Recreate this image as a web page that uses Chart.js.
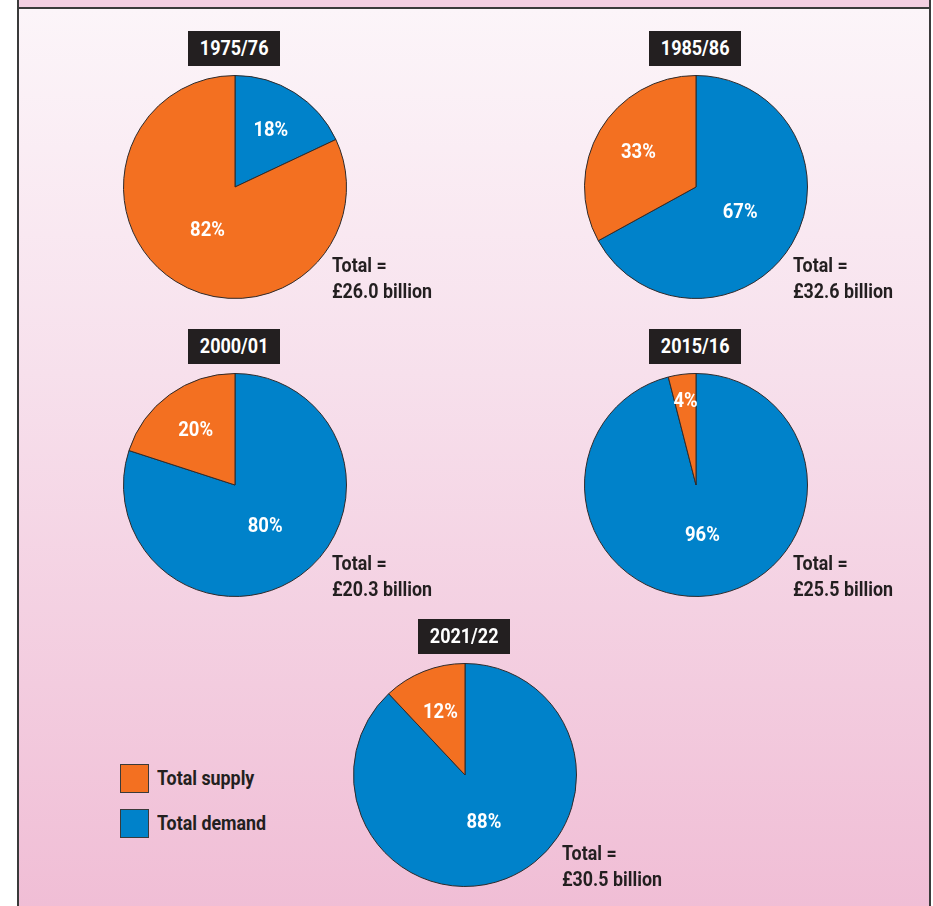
<!DOCTYPE html>
<html>
<head>
<meta charset="utf-8">
<script src="https://cdn.jsdelivr.net/npm/chart.js@4/dist/chart.umd.min.js"></script>
<style>
  html, body { margin: 0; padding: 0; background: #fff; }
  body { width: 933px; height: 906px; position: relative; overflow: hidden; font-family: Roboto, "Liberation Sans", sans-serif; }
  #topband { position: absolute; left: 17px; top: 0; width: 910px; height: 7px; background: #f3cfe1;
             border-left: 2px solid #3a3a3a; border-right: 2px solid #3a3a3a; }
  #frame { position: absolute; left: 17px; top: 7px; width: 910px; height: 910px;
           border: 2px solid #3a3a3a; border-bottom: none;
           background: linear-gradient(to bottom, #fcf5f9 0%, #f7e0ec 40%, #f0bdd5 100%); }
  .pie { position: absolute; }
  .title { position: absolute; width: 92px; height: 35px; background: #231f20; color: #fff;
           font-weight: bold; font-size: 20px; line-height: 35px; text-align: center; }
  .title span { display: inline-block; transform: scaleX(0.9); }
  .total, .legtext { position: absolute; color: #231f20; font-weight: bold; font-size: 21px; white-space: nowrap;
           transform: scaleX(0.85); transform-origin: 0 0; }
  .total { line-height: 26px; }
  .legtext { line-height: 29px; }
  .swatch { position: absolute; width: 27px; height: 27px; border: 1px solid #3a3a3a; }
</style>
</head>
<body>
<div id="topband"></div>
<div id="frame"></div>
<div id="holder"></div>
<script>
// data
var years = ['1975/76', '1985/86', '2000/01', '2015/16', '2021/22'];
var seriesNames = ['Total demand', 'Total supply'];
var demandShare = [18, 67, 80, 96, 88];
var supplyShare = [82, 33, 20, 4, 12];
var totals = ['£26.0 billion', '£32.6 billion', '£20.3 billion', '£25.5 billion', '£30.5 billion'];

var colours = ['#0082ca', '#f37021'];
// where each pie sits on the page (layout only)
var centres = [[235, 187], [696, 187], [235, 485], [696, 485], [465, 775]];
var box = 230;

var holder = document.getElementById('holder');

// white percentage labels inside the slices
var pctLabels = {
  id: 'pctLabels',
  afterDatasetsDraw: function(chart) {
    var ctx = chart.ctx;
    var meta = chart.getDatasetMeta(0);
    var vals = chart.data.datasets[0].data;
    var sum = vals.reduce(function(a, b) { return a + b; }, 0);
    meta.data.forEach(function(arc, i) {
      var p = vals[i] / sum;
      var f = p < 0.1 ? 0.75 : p < 0.5 ? 0.6 : 0.46;
      var mid = (arc.startAngle + arc.endAngle) / 2;
      var r = arc.outerRadius * f;
      ctx.save();
      ctx.translate(arc.x + Math.cos(mid) * r, arc.y + Math.sin(mid) * r);
      ctx.scale(0.88, 1);
      ctx.fillStyle = '#ffffff';
      ctx.font = 'bold 21px Roboto, "Liberation Sans", sans-serif';
      ctx.textAlign = 'center';
      ctx.textBaseline = 'middle';
      ctx.fillText(vals[i] + '%', 0, 0);
      ctx.restore();
    });
  }
};

function addDiv(cls, left, top, html) {
  var d = document.createElement('div');
  d.className = cls;
  d.style.left = left + 'px';
  d.style.top = top + 'px';
  d.innerHTML = html;
  holder.appendChild(d);
  return d;
}

for (var i = 0; i < years.length; i++) {
  var cx = centres[i][0], cy = centres[i][1];
  var cv = document.createElement('canvas');
  cv.className = 'pie';
  cv.width = box; cv.height = box;
  cv.style.left = (cx - box / 2) + 'px';
  cv.style.top = (cy - box / 2) + 'px';
  holder.appendChild(cv);

  new Chart(cv, {
    type: 'pie',
    data: {
      labels: seriesNames,
      datasets: [{
        data: [demandShare[i], supplyShare[i]],
        backgroundColor: colours,
        borderColor: '#2e2a2b',
        borderWidth: 1
      }]
    },
    options: {
      responsive: false,
      animation: false,
      layout: { padding: 3 },
      plugins: { legend: { display: false }, tooltip: { enabled: false } }
    },
    plugins: [pctLabels]
  });

  addDiv('title', cx - 47, cy - 156, '<span>' + years[i] + '</span>');
  addDiv('total', cx + 97, cy + 65, 'Total =<br>' + totals[i]);
}

// legend
var sw1 = addDiv('swatch', 120, 764, '');
sw1.style.background = colours[1];
addDiv('legtext', 157, 764, seriesNames[1]);
var sw2 = addDiv('swatch', 120, 809, '');
sw2.style.background = colours[0];
addDiv('legtext', 157, 809, seriesNames[0]);
</script>
</body>
</html>
